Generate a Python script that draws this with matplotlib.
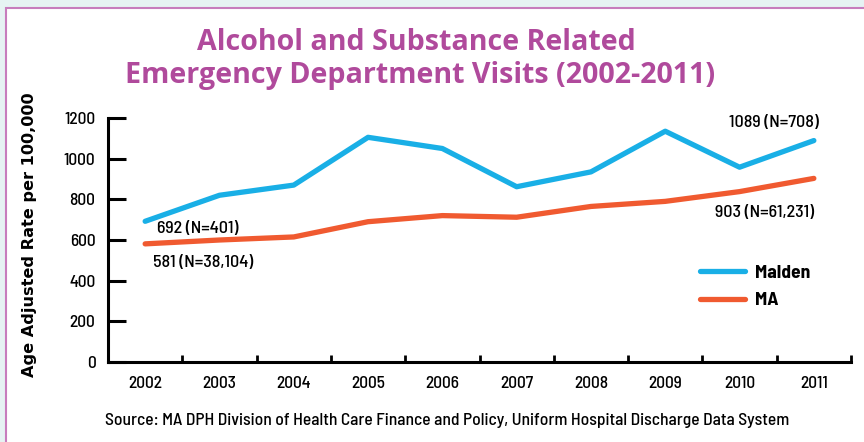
import matplotlib
matplotlib.use("Agg")
import matplotlib.pyplot as plt
from matplotlib.patches import Rectangle
from matplotlib import font_manager

years = ["2002", "2003", "2004", "2005", "2006", "2007", "2008", "2009", "2010", "2011"]
malden = [692, 820, 870, 1105, 1050, 862, 935, 1135, 958, 1089]
ma = [581, 600, 615, 690, 720, 712, 765, 790, 838, 903]
yticks = [0, 200, 400, 600, 800, 1000, 1200]

names = {f.name for f in font_manager.fontManager.ttflist}
def pick(*cands):
    for c in cands:
        if c in names:
            return c
    return "DejaVu Sans"

body = pick("Barlow Semi Condensed", "Roboto Condensed", "Encode Sans Condensed")
titlef = pick("Open Sans", "Barlow")
plt.rcParams['font.family'] = [body, 'DejaVu Sans']

blue = "#19afe6"
orange = "#f05a30"
title_col = "#b04a9c"

fig = plt.figure(figsize=(8.64, 4.42), dpi=100)
fig.patch.set_facecolor("#e6f3f3")
bg = fig.add_axes([0, 0, 1, 1], zorder=-10)
bg.set_axis_off()
bg.set_xlim(0, 1); bg.set_ylim(0, 1)
bg.add_patch(Rectangle((6/864, -0.1), 1.2, 1 - 8/442 + 0.1, facecolor="white",
                       edgecolor="#c77dbd", lw=1.5))

ax = fig.add_axes([108/864, 1 - 362/442, (851 - 108)/864, (362 - 118)/442])
ax.set_facecolor("none")
x = list(range(len(years)))
ax.plot(x, malden, color=blue, lw=3.8, solid_capstyle="round", label="Malden")
ax.plot(x, ma, color=orange, lw=3.8, solid_capstyle="round", label="MA")

ax.set_xlim(-0.5, 9.5)
ax.set_ylim(0, 1200)
for s in ["top", "right"]:
    ax.spines[s].set_visible(False)
for s in ["left", "bottom"]:
    ax.spines[s].set_linewidth(2.2)
    ax.spines[s].set_capstyle("projecting")

ax.set_yticks(yticks)
ax.set_yticklabels([str(v) for v in yticks], fontsize=12.5, fontweight="medium")
ax.tick_params(axis="y", direction="in", length=13, width=2.2, pad=9)
ax.set_xticks([i + 0.5 for i in range(len(years))])
ax.set_xticklabels([])
ax.tick_params(axis="x", which="major", direction="in", length=5, width=2)
ax.set_xticks(x, minor=True)
ax.set_xticklabels(years, minor=True, fontsize=12.5, fontweight="medium")
ax.tick_params(axis="x", which="minor", length=0, pad=10)

kw = dict(fontsize=13, fontweight="medium", va="center")
ax.text(0.16, 659, "692 (N=401)", ha="left", **kw)
ax.text(0.11, 487, "581 (N=38,104)", ha="left", **kw)
ax.text(9.07, 1180, "1089 (N=708)", ha="right", **kw)
ax.text(9.0, 733, "903 (N=61,231)", ha="right", **kw)

ax.legend(loc="upper left", bbox_to_anchor=(0.797, 0.40), frameon=False,
          prop={"family": body, "weight": "bold", "size": 14}, handlelength=2.3,
          handletextpad=0.5, labelspacing=0.5, borderpad=0, borderaxespad=0)

fig.text(416/864, 1 - 42/442, "Alcohol and Substance Related",
         ha="center", va="center", color=title_col, fontsize=20.6, fontweight="bold",
         family=[titlef, "DejaVu Sans"])
fig.text(420/864, 1 - 75/442, "Emergency Department Visits (2002-2011)",
         ha="center", va="center", color=title_col, fontsize=20.6, fontweight="bold",
         family=[titlef, "DejaVu Sans"])
fig.text(30/864, 1 - 235/442, "Age Adjusted Rate per 100,000", rotation=90,
         ha="center", va="center", fontsize=11.6, fontweight="bold", family="DejaVu Sans")
fig.text(447/864, 1 - 420/442,
         "Source: MA DPH Division of Health Care Finance and Policy, Uniform Hospital Discharge Data System",
         ha="center", va="center", fontsize=12.6, fontweight="medium")

fig.savefig("out.png", dpi=100, facecolor=fig.get_facecolor())
